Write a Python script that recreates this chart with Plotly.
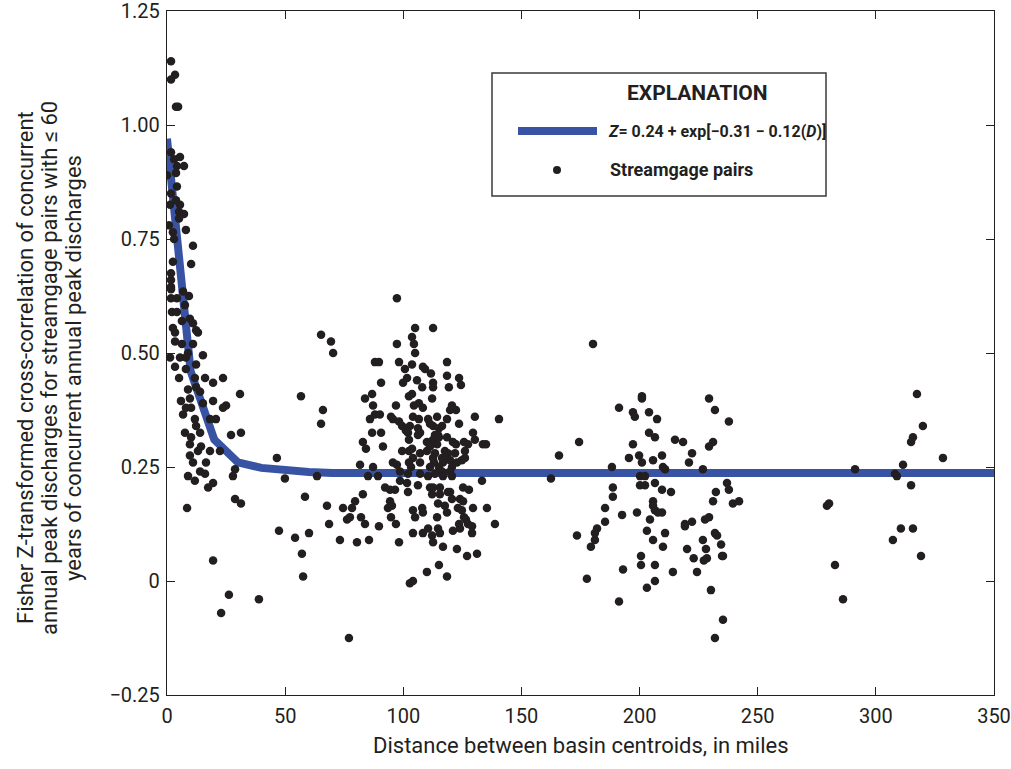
import plotly.graph_objects as go

# ---------------- data (distance in miles, Fisher Z) ----------------
near_pairs = [
    (1.7, 1.14), (3.4, 1.11), (1.7, 1.10), (3.8, 1.04), (4.7, 1.04), (1.7, 0.94), (3.0, 0.925),
    (5.5, 0.93), (4.2, 0.91), (7.2, 0.91), (0.0, 0.89), (3.8, 0.895), (4.2, 0.865), (1.7, 0.85),
    (3.8, 0.835), (1.3, 0.825), (5.5, 0.825), (5.1, 0.81), (7.2, 0.805), (5.1, 0.795), (0.8, 0.78),
    (8.0, 0.77), (2.5, 0.765), (3.0, 0.75), (11.0, 0.735), (2.5, 0.70), (10.2, 0.695), (1.7, 0.675),
    (1.7, 0.66), (1.7, 0.645), (1.7, 0.64), (6.8, 0.635), (9.3, 0.625), (1.7, 0.62), (4.2, 0.62),
    (7.6, 0.605), (2.1, 0.59), (4.2, 0.59), (9.7, 0.575), (6.3, 0.57), (11.0, 0.565), (2.5, 0.555),
    (3.4, 0.545), (13.1, 0.545), (3.4, 0.525), (6.3, 0.52), (11.0, 0.52), (12.3, 0.55), (8.9, 0.50),
    (15.2, 0.495), (1.3, 0.49), (5.5, 0.49), (8.0, 0.49), (3.4, 0.47), (8.0, 0.465), (12.3, 0.475),
    (5.1, 0.445), (11.8, 0.445), (16.1, 0.445), (19.5, 0.435), (23.7, 0.445), (8.9, 0.42),
    (12.3, 0.425), (14.0, 0.415), (30.9, 0.41), (5.9, 0.395), (9.7, 0.40), (15.2, 0.39),
    (19.5, 0.395), (25.0, 0.385), (23.7, 0.38), (8.0, 0.38), (10.2, 0.38), (6.8, 0.365),
    (11.8, 0.355), (18.2, 0.355), (20.7, 0.355), (12.3, 0.34), (7.6, 0.325), (10.2, 0.315),
    (14.0, 0.325), (27.1, 0.32), (31.3, 0.325), (9.7, 0.30), (14.4, 0.295), (18.2, 0.285),
    (22.4, 0.285), (9.7, 0.275), (13.1, 0.285), (11.0, 0.26), (16.5, 0.26), (28.8, 0.245),
    (27.9, 0.23), (8.9, 0.23), (14.0, 0.24), (16.1, 0.235), (11.8, 0.22), (19.5, 0.215),
    (17.4, 0.205), (8.5, 0.16), (28.8, 0.18), (31.3, 0.17), (19.5, 0.045), (26.2, -0.03),
    (22.9, -0.07), (38.9, -0.04),
]

mid_pairs = [
    (46.5, 0.27), (49.9, 0.225), (58.4, 0.185), (47.4, 0.11), (54.2, 0.095), (60.1, 0.105),
    (57.1, 0.06), (57.6, 0.01), (65.2, 0.54), (69.4, 0.525), (70.3, 0.50), (56.7, 0.405),
    (66.0, 0.375), (65.2, 0.345), (63.5, 0.23), (67.7, 0.165), (68.6, 0.125), (73.2, 0.09),
    (74.5, 0.16), (78.3, 0.16), (79.6, 0.175), (76.2, 0.135), (77.4, 0.14), (82.1, 0.14),
    (80.4, 0.085), (85.5, 0.09), (83.8, 0.125), (89.7, 0.12), (77.0, -0.125),
]

cluster_pairs = [
    (82.9, 0.305), (84.2, 0.29), (81.7, 0.255), (85.1, 0.23), (86.8, 0.325), (85.9, 0.355),
    (83.8, 0.40), (86.8, 0.41), (87.2, 0.385), (88.0, 0.48), (89.7, 0.48), (87.2, 0.25),
    (89.3, 0.23), (82.9, 0.19), (88.0, 0.365), (90.1, 0.365), (90.6, 0.435), (90.6, 0.325),
    (91.4, 0.295), (92.3, 0.205), (94.4, 0.20), (93.5, 0.16), (94.4, 0.175), (95.2, 0.165),
    (94.8, 0.36), (95.6, 0.355), (94.8, 0.14), (96.9, 0.125), (98.2, 0.085), (97.3, 0.62),
    (97.3, 0.52), (98.2, 0.48), (96.9, 0.385), (98.2, 0.35), (95.6, 0.26), (97.3, 0.255),
    (98.6, 0.24), (98.6, 0.22), (96.5, 0.20), (99.5, 0.34), (101.1, 0.33), (102.8, 0.34),
    (99.5, 0.285), (102.4, 0.285), (102.0, 0.325), (102.4, 0.31), (103.7, 0.29), (104.1, 0.27),
    (102.4, 0.26), (103.3, 0.25), (102.0, 0.235), (101.6, 0.215), (102.0, 0.195), (104.1, 0.155),
    (104.1, 0.105), (105.0, 0.14), (102.8, -0.005), (104.1, 0.0), (103.7, 0.535), (104.5, 0.52),
    (105.0, 0.50), (105.0, 0.555), (112.6, 0.555), (100.7, 0.465), (101.6, 0.445), (99.9, 0.435),
    (102.4, 0.405), (103.7, 0.41), (104.5, 0.385), (104.1, 0.36), (106.6, 0.355), (106.6, 0.39),
    (108.3, 0.38), (105.8, 0.44), (108.0, 0.425), (108.3, 0.47), (109.2, 0.465), (111.7, 0.455),
    (112.6, 0.435), (112.6, 0.425), (112.2, 0.40), (110.5, 0.355), (114.3, 0.36), (106.2, 0.335),
    (111.3, 0.345), (112.6, 0.34), (115.1, 0.335), (116.4, 0.34), (106.2, 0.32), (107.1, 0.325),
    (113.4, 0.32), (114.7, 0.32), (118.5, 0.315), (112.6, 0.31), (115.1, 0.315), (110.0, 0.305),
    (111.3, 0.295), (114.3, 0.30), (107.1, 0.28), (110.0, 0.285), (113.4, 0.28), (117.6, 0.285),
    (118.9, 0.28), (112.6, 0.27), (116.4, 0.27), (118.5, 0.27), (119.8, 0.265), (107.1, 0.26),
    (113.0, 0.26), (116.8, 0.26), (111.3, 0.25), (115.1, 0.25), (116.4, 0.24), (107.1, 0.235),
    (110.5, 0.23), (113.4, 0.235), (116.8, 0.23), (106.2, 0.21), (111.3, 0.205), (112.6, 0.205),
    (115.5, 0.205), (118.9, 0.195), (112.2, 0.19), (115.5, 0.19), (114.7, 0.17), (117.6, 0.165),
    (108.0, 0.16), (108.3, 0.15), (114.3, 0.14), (110.5, 0.115), (114.7, 0.115), (108.3, 0.105),
    (112.2, 0.10), (115.5, 0.105), (112.6, 0.085), (116.8, 0.075), (115.1, 0.035), (110.0, 0.02),
    (118.5, 0.01), (118.5, 0.48), (123.6, 0.445), (124.4, 0.43), (118.5, 0.45), (119.3, 0.425),
    (120.6, 0.385), (122.3, 0.375), (119.8, 0.375), (118.5, 0.355), (123.6, 0.345), (130.3, 0.36),
    (140.5, 0.355), (129.5, 0.325), (130.3, 0.31), (121.0, 0.305), (122.3, 0.30), (125.7, 0.305),
    (127.4, 0.30), (133.7, 0.30), (135.0, 0.30), (121.9, 0.28), (126.1, 0.285), (124.8, 0.265),
    (126.1, 0.27), (122.7, 0.26), (120.6, 0.25), (119.8, 0.24), (120.6, 0.23), (125.3, 0.205),
    (127.8, 0.20), (133.3, 0.22), (119.8, 0.195), (120.6, 0.18), (124.0, 0.18), (125.3, 0.175),
    (123.1, 0.16), (129.5, 0.16), (135.4, 0.16), (124.8, 0.155), (118.5, 0.15), (125.7, 0.14),
    (126.5, 0.135), (123.6, 0.125), (127.4, 0.125), (129.1, 0.12), (138.8, 0.125), (121.0, 0.11),
    (124.0, 0.115), (129.1, 0.105), (122.7, 0.07), (127.0, 0.055), (131.2, 0.06), (103.7, 0.475),
]

far_pairs = [
    (180.3, 0.52), (201.0, 0.405), (201.0, 0.40), (191.3, 0.38), (197.2, 0.37), (198.0, 0.36),
    (204.0, 0.37), (207.4, 0.355), (229.4, 0.40), (231.9, 0.375), (237.8, 0.35), (174.4, 0.305),
    (165.9, 0.275), (162.5, 0.225), (204.0, 0.325), (206.5, 0.315), (215.0, 0.31), (218.4, 0.305),
    (231.1, 0.305), (229.4, 0.295), (197.2, 0.30), (195.5, 0.27), (199.8, 0.275), (201.0, 0.26),
    (205.7, 0.265), (209.5, 0.275), (209.9, 0.25), (210.8, 0.245), (222.2, 0.28), (220.9, 0.26),
    (226.8, 0.245), (188.3, 0.25), (200.2, 0.23), (202.3, 0.23), (200.2, 0.21), (202.3, 0.21),
    (206.5, 0.215), (209.5, 0.20), (213.3, 0.195), (188.7, 0.205), (188.7, 0.185), (237.0, 0.215),
    (237.8, 0.20), (232.3, 0.195), (231.1, 0.175), (239.5, 0.17), (242.1, 0.175), (205.7, 0.175),
    (205.7, 0.165), (206.5, 0.155), (207.8, 0.15), (209.5, 0.15), (204.4, 0.135), (185.4, 0.16),
    (192.6, 0.145), (198.9, 0.15), (185.4, 0.13), (229.4, 0.14), (227.7, 0.135), (222.2, 0.13),
    (219.2, 0.125), (219.2, 0.12), (182.0, 0.115), (181.1, 0.105), (181.1, 0.09), (173.5, 0.10),
    (203.1, 0.11), (210.8, 0.105), (205.7, 0.09), (209.9, 0.075), (231.9, 0.105), (232.8, 0.10),
    (226.8, 0.09), (234.5, 0.08), (220.1, 0.07), (228.1, 0.07), (234.9, 0.055), (179.4, 0.075),
    (200.6, 0.055), (222.9, 0.05), (227.2, 0.045), (200.6, 0.035), (206.5, 0.035), (193.0, 0.025),
    (214.1, 0.02), (224.3, 0.02), (177.7, 0.005), (203.1, -0.015), (206.5, 0.0), (230.2, -0.02),
    (191.3, -0.045), (235.3, -0.085), (231.9, -0.125), (228.5, 0.05), (235.3, 0.055),
]

farthest_pairs = [
    (317.4, 0.41), (319.9, 0.34), (315.7, 0.315), (314.9, 0.305), (328.4, 0.27), (291.2, 0.245),
    (311.5, 0.255), (308.1, 0.235), (308.9, 0.23), (314.9, 0.21), (280.2, 0.17), (279.3, 0.165),
    (310.6, 0.115), (315.7, 0.115), (307.2, 0.09), (319.1, 0.055), (282.7, 0.035), (286.1, -0.04),
]

# fitted curve as drawn (distance, Z)
curve_dist = [0, 10, 20, 30, 40, 50, 60, 70, 350]
curve_z = [0.97, 0.46, 0.31, 0.26, 0.248, 0.242, 0.239, 0.237, 0.237]

x_ticks = [0, 50, 100, 150, 200, 250, 300, 350]
y_ticks = [-0.25, 0, 0.25, 0.50, 0.75, 1.00, 1.25]
y_ticktext = ["\u22120.25", "0", "0.25", "0.50", "0.75", "1.00", "1.25"]

y_title_lines = [
    "Fisher Z-transformed cross-correlation of concurrent",
    "annual peak discharges for streamgage pairs with \u2264 60",
    "years of concurrent annual peak discharges",
]
x_title = "Distance between basin centroids, in miles"

# ---------------- figure ----------------
all_pairs = near_pairs + mid_pairs + cluster_pairs + far_pairs + farthest_pairs
px_ = [p[0] for p in all_pairs]
pz_ = [p[1] for p in all_pairs]

INK = "#231f20"
BLUE = "#3953a4"
FONT = "Roboto, Liberation Sans, Arial, sans-serif"

fig = go.Figure()
fig.add_trace(go.Scatter(x=curve_dist, y=curve_z, mode="lines",
                         line=dict(color=BLUE, width=8), hoverinfo="skip", showlegend=False))
fig.add_trace(go.Scatter(x=px_, y=pz_, mode="markers",
                         marker=dict(color=INK, size=8.5, line=dict(width=0)), showlegend=False))

axis_common = dict(showline=True, linecolor=INK, linewidth=1.3, mirror="allticks",
                   ticks="inside", ticklen=8, tickwidth=1, tickcolor=INK,
                   showgrid=False, zeroline=False, automargin=False,
                   ticklabeloverflow="allow",
                   tickfont=dict(family=FONT, size=20, color=INK))

fig.update_xaxes(range=[0, 350], tickvals=x_ticks, ticklabelstandoff=3, **axis_common)
fig.update_yaxes(range=[-0.25, 1.25], tickvals=y_ticks, ticktext=y_ticktext,
                 ticklabelstandoff=2, **axis_common)

# legend (explanation) drawn manually
L = 167.0
W = 827.0
T = 11.0
H = 684.0
def pxx(v):
    return (v - L) / W
def pyy(v):
    return (T + H - v) / H

shapes = [
    dict(type="rect", xref="paper", yref="paper", x0=pxx(492), x1=pxx(826), y0=pyy(196), y1=pyy(73),
         line=dict(color="#3a3a3a", width=1.5), fillcolor="white", layer="above"),
    dict(type="line", xref="paper", yref="paper", x0=pxx(518), x1=pxx(597), y0=pyy(131), y1=pyy(131),
         line=dict(color=BLUE, width=8), layer="above"),
    dict(type="circle", xref="paper", yref="paper", xsizemode="pixel", ysizemode="pixel",
         xanchor=pxx(557), yanchor=pyy(170), x0=-4, x1=4, y0=-4, y1=4,
         line=dict(width=0), fillcolor=INK, layer="above"),
]

annotations = [
    dict(text="<b>EXPLANATION</b>", xref="paper", yref="paper", x=pxx(697), y=pyy(93),
         xanchor="center", yanchor="middle", showarrow=False,
         font=dict(family=FONT, size=21, color=INK)),
    dict(text="<b><i>Z</i>= 0.24 + exp[\u22120.31 \u2212 0.12(<i>D</i>)]</b>", xref="paper", yref="paper",
         x=pxx(606), y=pyy(131), xanchor="left", yanchor="middle", showarrow=False,
         font=dict(family=FONT, size=16, color=INK)),
    dict(text="<b>Streamgage pairs</b>", xref="paper", yref="paper",
         x=pxx(608), y=pyy(170), xanchor="left", yanchor="middle", showarrow=False,
         font=dict(family=FONT, size=18, color=INK)),
    dict(text=x_title, xref="paper", yref="paper",
         x=0.5, y=pyy(745), xanchor="center", yanchor="middle", showarrow=False,
         font=dict(family=FONT, size=22, color=INK)),
]
for line_text, cx in zip(y_title_lines, [26, 50, 74]):
    annotations.append(dict(text=line_text, xref="paper", yref="paper", x=pxx(cx), y=pyy(368),
                            xanchor="center", yanchor="middle", textangle=-90, showarrow=False,
                            font=dict(family=FONT, size=22, color=INK)))

fig.update_layout(
    width=1011, height=769,
    margin=dict(l=167, r=17, t=11, b=74, autoexpand=False),
    paper_bgcolor="white", plot_bgcolor="white",
    shapes=shapes, annotations=annotations,
    font=dict(family=FONT, color=INK),
)

fig.write_html("out.html")
